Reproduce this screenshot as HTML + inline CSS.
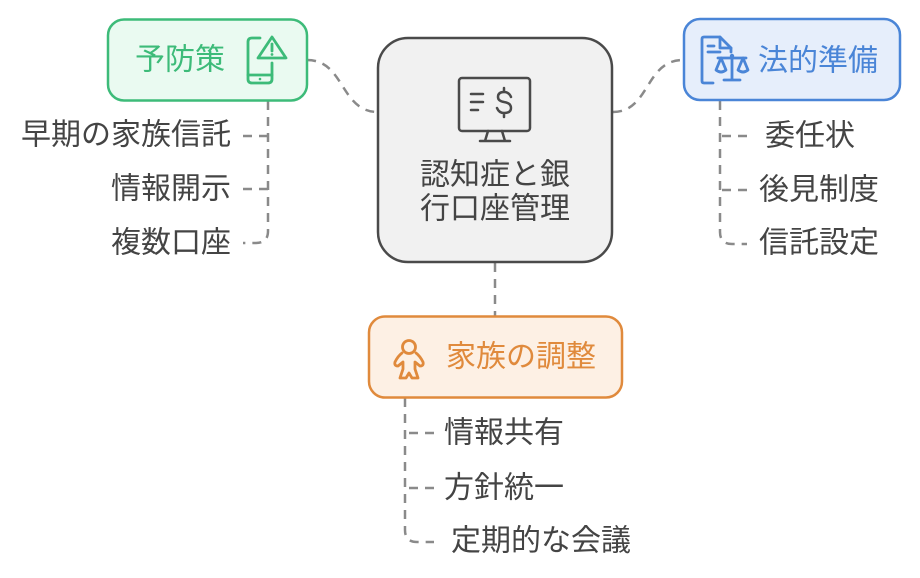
<!DOCTYPE html>
<html><head><meta charset="utf-8"><style>
html,body{margin:0;padding:0;background:#fff;}
svg{display:block;}
text{font-family:"Liberation Sans","Noto Sans CJK JP",sans-serif;font-size:30px;dominant-baseline:central;}
</style></head><body>
<svg width="920" height="578" viewBox="0 0 920 578" xmlns="http://www.w3.org/2000/svg">
<g fill="none" stroke="#8a8a8a" stroke-width="2.5" stroke-dasharray="9 7">
<path d="M307,60 C345,60 340,112 378,112"/>
<path d="M613,112 C650,112 645,60 683,60"/>
<path d="M495,263 L495,316"/>
<path d="M268,101 L268,231 Q268,243 256,243 L243,243"/>
<path d="M243,136 L268,136"/>
<path d="M243,189 L268,189"/>
<path d="M720,101 L720,232 Q720,244 732,244 L747,244"/>
<path d="M747,136 L720,136"/>
<path d="M747,190 L720,190"/>
<path d="M405,398 L405,530 Q405,542 417,542 L434,542"/>
<path d="M434,433 L405,433"/>
<path d="M434,488 L405,488"/>
</g>
<!-- green -->
<rect x="108" y="19.5" width="199" height="81" rx="16" fill="#eafaf1" stroke="#3dbb79" stroke-width="2.5"/>
<text x="135" y="60" fill="#3dbb79">予防策</text>
<g fill="none" stroke="#3dbb79" stroke-width="2.8" stroke-linejoin="round" stroke-linecap="round">
<path d="M260,38 L252,38 Q248,38 248,42 L248,79 Q248,83 252,83 L268,83 Q272,83 272,79 L272,63"/>
<path d="M248,75 L272,75"/>
<path d="M272,37 L286,58 L258,58 Z"/>
<path d="M272,44 L272,51"/>
</g>
<circle cx="272" cy="54.5" r="1.4" fill="#3dbb79"/>
<circle cx="260" cy="79" r="1.3" fill="#3dbb79"/>
<!-- blue -->
<rect x="684" y="19" width="216" height="81" rx="16" fill="#e6eefb" stroke="#4a85d7" stroke-width="2.5"/>
<text x="758" y="61" fill="#4a85d7">法的準備</text>
<g fill="none" stroke="#4a85d7" stroke-width="2.8" stroke-linejoin="round" stroke-linecap="round">
<path d="M713,83 L704,83 Q702,83 702,81 L702,39 Q702,37 704,37 L720,37 L731,48 L731,52"/>
<path d="M720,37 L720,48 L731,48"/>
<path d="M708,46 L714,46"/>
<path d="M708,52 L720,52"/>
<path d="M732,57 L732,80 M724,80 L740,80"/>
<path d="M718,58 L746,58"/>
<path d="M721,58 L716,70 Q721,74 726,70 Z"/>
<path d="M743,58 L738,70 Q743,74 748,70 Z"/>
</g>
<circle cx="732" cy="56" r="2.2" fill="#4a85d7"/>
<!-- center -->
<rect x="378" y="38" width="234" height="224" rx="30" fill="#f1f1f1" stroke="#4a4a4a" stroke-width="2.5"/>
<g fill="none" stroke="#4a4a4a" stroke-width="2.5" stroke-linecap="round" stroke-linejoin="round">
<rect x="459" y="78" width="71" height="53" rx="3"/>
<path d="M488,131 L485,141 M502,131 L505,141 M480,141 L510,141"/>
<path d="M471,94 L483,94 M471,102 L483,102 M471,110 L478,110"/>
<path d="M511,97 Q509,92 504,92 Q498,92 498,97 Q498,101 504,102 Q511,103 511,108 Q511,113 504,113 Q499,113 497,108 M504,88 L504,92 M504,113 L504,117"/>
</g>
<text x="495" y="175" fill="#444" text-anchor="middle">認知症と銀</text>
<text x="495" y="209" fill="#444" text-anchor="middle">行口座管理</text>
<!-- orange -->
<rect x="369" y="316.5" width="253" height="81" rx="16" fill="#fdf0e4" stroke="#e08a3c" stroke-width="2.5"/>
<text x="446" y="357" fill="#e08a3c">家族の調整</text>
<g fill="none" stroke="#e08a3c" stroke-width="2.8" stroke-linejoin="round" stroke-linecap="round">
<circle cx="409" cy="347" r="6.5"/>
<path d="M402,353 Q398,356 395,362 Q394,366 398,366 L403,362 L403,369 L400,378 L406,378 L409,373 L412,378 L418,378 L415,369 L415,362 L420,366 Q424,366 423,362 Q420,356 416,353"/>
</g>
<!-- children text -->
<g fill="#444">
<text x="231" y="135" text-anchor="end">早期の家族信託</text>
<text x="231" y="189" text-anchor="end">情報開示</text>
<text x="231" y="243" text-anchor="end">複数口座</text>
<text x="765" y="136">委任状</text>
<text x="759" y="190">後見制度</text>
<text x="759" y="243">信託設定</text>
<text x="444" y="433">情報共有</text>
<text x="444" y="488">方針統一</text>
<text x="451" y="541">定期的な会議</text>
</g>
</svg>
</body></html>
